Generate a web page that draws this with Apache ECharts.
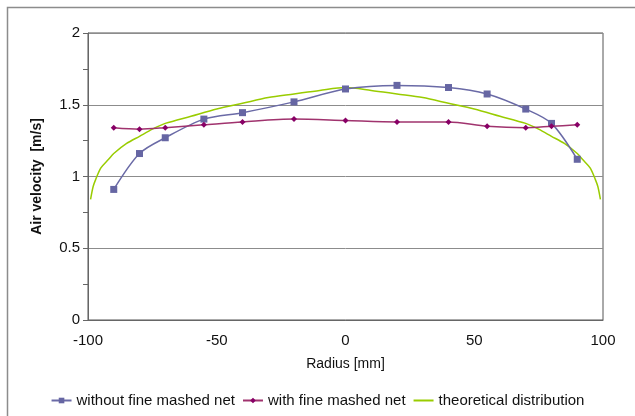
<!DOCTYPE html>
<html><head><meta charset="utf-8">
<script src="https://cdn.jsdelivr.net/npm/echarts@6/dist/echarts.min.js"></script>
<style>html,body{margin:0;padding:0;background:#fff}#c{width:635px;height:416px}</style>
</head><body><div id="c"></div>
<script>
var radius = [-90, -80, -70, -55, -40, -20, 0, 20, 40, 55, 70, 80, 90];
var withoutNet = [0.91, 1.16, 1.27, 1.40, 1.445, 1.52, 1.61, 1.635, 1.62, 1.575, 1.47, 1.37, 1.12];
var withNet = [1.34, 1.33, 1.34, 1.36, 1.38, 1.40, 1.39, 1.38, 1.38, 1.35, 1.34, 1.35, 1.36];
var theoryR = [-99, -98, -97, -95, -92, -90, -85, -80, -75, -70, -60, -50, -40, -30, -20, -10, 0, 10, 20, 30, 40, 50, 60, 70, 75, 80, 85, 90, 92, 95, 97, 98, 99];
var theoryV = [0.84, 0.93, 0.98, 1.06, 1.12, 1.16, 1.23, 1.28, 1.33, 1.37, 1.42, 1.47, 1.51, 1.55, 1.575, 1.60, 1.62, 1.60, 1.575, 1.55, 1.51, 1.47, 1.42, 1.37, 1.33, 1.28, 1.23, 1.16, 1.12, 1.06, 0.98, 0.93, 0.84];
var xTicks = [-100, -50, 0, 50, 100];
var yTicks = [0, 0.5, 1, 1.5, 2];
var names = ['without fine mashed net', 'with fine mashed net', 'theoretical distribution'];

function zip(a, b) { return a.map(function (v, i) { return [v, b[i]]; }); }
var font = 'Liberation Sans, Arial, sans-serif';
var chart = echarts.init(document.getElementById('c'));
chart.setOption({
  animation: false,
  backgroundColor: '#fff',
  graphic: [{ type: 'rect', shape: { x: 7.5, y: 7.5, width: 640, height: 420 }, style: { fill: 'none', stroke: '#8c8c8c', lineWidth: 1.5 }, z: -1 }],
  grid: { left: 88, right: 32, top: 33, bottom: 96, show: true, borderColor: '#555', borderWidth: 1, backgroundColor: 'transparent' },
  legend: {
    bottom: 3, left: 'center', itemGap: 7, itemWidth: 20, itemHeight: 7,
    textStyle: { fontFamily: font, fontSize: 15, color: '#111' },
    data: [names[0], names[1], { name: names[2], itemStyle: { opacity: 0 } }]
  },
  xAxis: {
    type: 'value', min: -100, max: 100, interval: 50,
    name: 'Radius [mm]', nameLocation: 'middle', nameGap: 37,
    nameTextStyle: { fontFamily: font, fontSize: 14, color: '#111' },
    axisLine: { show: true, onZero: false, lineStyle: { color: '#666' } },
    axisTick: { show: false },
    splitLine: { show: false },
    axisLabel: { fontFamily: font, fontSize: 15, color: '#111', margin: 13,
      formatter: function (v) { return xTicks.indexOf(v) >= 0 ? String(v) : ''; } }
  },
  yAxis: {
    type: 'value', min: 0, max: 2, interval: 0.5,
    name: 'Air velocity  [m/s]', nameLocation: 'middle', nameGap: 44,
    nameTextStyle: { fontFamily: font, fontSize: 14, fontWeight: 'bold', color: '#111' },
    axisLine: { show: true, onZero: false, lineStyle: { color: '#666' } },
    axisTick: { show: true, length: 5, lineStyle: { color: '#666' } },
    minorTick: { show: true, splitNumber: 2, length: 5, lineStyle: { color: '#666' } },
    splitLine: { show: true, lineStyle: { color: '#8c8c8c', width: 1 } },
    axisLabel: { fontFamily: font, fontSize: 15, color: '#111', margin: 8,
      formatter: function (v) { return yTicks.indexOf(v) >= 0 ? String(v) : ''; } }
  },
  series: [
    { name: names[0], type: 'line', data: zip(radius, withoutNet), smooth: 0.3,
      symbol: 'rect', symbolSize: 7, itemStyle: { color: '#6666a3' }, lineStyle: { color: '#6a6aa6', width: 1.5 }, z: 3 },
    { name: names[1], type: 'line', data: zip(radius, withNet), smooth: 0.3,
      symbol: 'diamond', symbolSize: 6, itemStyle: { color: '#880066' }, lineStyle: { color: '#a0336e', width: 1.5 }, z: 4 },
    { name: names[2], type: 'line', data: zip(theoryR, theoryV), smooth: 0.3,
      showSymbol: false, symbol: 'none', itemStyle: { color: '#99cc00' }, lineStyle: { color: '#99cc00', width: 1.5 }, z: 2 }
  ]
});
</script></body></html>
